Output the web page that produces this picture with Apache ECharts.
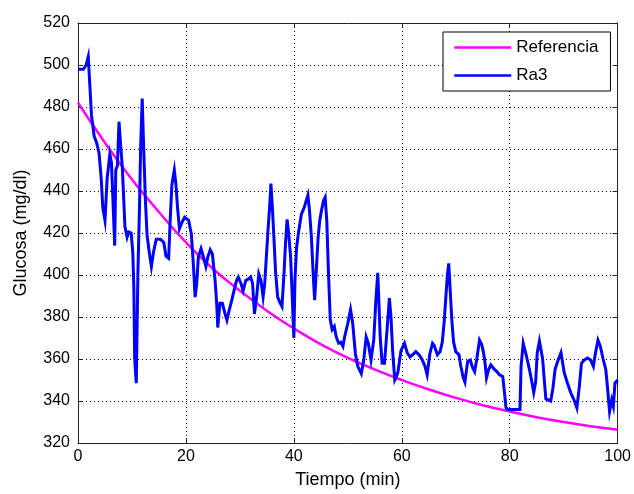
<!DOCTYPE html>
<html>
<head>
<meta charset="utf-8">
<script src="https://cdn.jsdelivr.net/npm/echarts@6/dist/echarts.min.js"></script>
<style>
  html, body { margin: 0; padding: 0; background: #fff; }
  #chart { width: 634px; height: 494px; }
</style>
</head>
<body>
<div id="chart"></div>
<script>
// Reference glucose trajectory (mg/dl) sampled every 5 min
const refTime = [0, 5, 10, 15, 20, 25, 30, 35, 40, 45, 50, 55, 60, 65, 70, 75, 80, 85, 90, 95, 100];
const refGlucose = [482, 463, 445.5, 430, 415.5, 403, 392.5, 383, 374.5, 367, 360.5, 355, 350, 345.5, 341.5, 338, 335, 332.3, 330, 328, 326.3];

// Measured Ra3 glucose response: time (min) and value (mg/dl)
const ra3Time = [
  0, 1.0, 1.5, 1.9, 2.2, 2.5, 3.0, 3.45, 3.9, 4.3, 4.6, 5.0, 5.4, 5.9, 6.2, 6.5, 6.8, 7.0, 7.3, 7.6,
  7.9, 8.2, 8.7, 9.1, 9.4, 9.85, 10.15, 10.35, 10.5, 10.8, 11.1, 11.4, 11.6, 11.9, 12.2, 12.5, 12.8, 13.2, 13.6, 14.0,
  14.5, 15.3, 15.9, 16.3, 16.8, 17.1, 17.4, 17.85, 18.15, 18.45, 18.8, 19.25, 19.75, 20.5, 21.0, 21.4, 21.7, 22.0, 22.3, 22.8,
  23.25, 23.7, 24.05, 24.5, 24.9, 25.4, 25.7, 25.9, 26.3, 26.75, 27.25, 27.6, 28.0, 28.5, 29.0, 29.4, 29.7, 30.2, 30.6, 31.1,
  31.55, 32.0, 32.35, 32.7, 33.1, 33.5, 33.9, 34.3, 34.6, 34.9, 35.2, 35.55, 35.75, 36.05, 36.3, 36.6, 37.0, 37.4, 37.8, 38.2,
  38.45, 38.75, 39.05, 39.4, 39.7, 40.0, 40.2, 40.5, 40.9, 41.4, 41.9, 42.3, 42.6, 42.9, 43.25, 43.55, 43.85, 44.2, 44.5, 44.8,
  45.1, 45.5, 45.8, 46.1, 46.4, 46.75, 47.1, 47.5, 47.85, 48.3, 48.7, 49.1, 49.4, 50.0, 50.5, 50.9, 51.4, 51.85, 52.5, 52.95,
  53.4, 53.8, 54.3, 54.8, 55.2, 55.55, 55.7, 56.0, 56.35, 56.8, 57.3, 57.7, 58.0, 58.3, 58.7, 59.0, 59.3, 59.85, 60.5, 61.0,
  61.5, 62.0, 62.6, 63.2, 63.8, 64.3, 64.7, 65.2, 65.7, 66.0, 66.6, 67.1, 67.5, 67.85, 68.15, 68.45, 68.7, 68.95, 69.3, 69.6,
  70.0, 70.6, 70.9, 71.4, 71.7, 71.95, 72.2, 72.7, 73.1, 73.5, 73.9, 74.4, 74.8, 75.1, 75.4, 75.7, 76.1, 76.5, 77.0, 77.6,
  78.1, 78.7, 78.95, 79.3, 79.6, 81.9, 82.1, 82.5, 83.0, 83.65, 84.0, 84.45, 84.8, 85.1, 85.5, 85.8, 86.1, 86.4, 86.7, 87.6,
  88.0, 88.4, 88.9, 89.5, 90.1, 90.7, 91.3, 92.0, 92.45, 92.9, 93.3, 93.8, 94.4, 95.0, 95.5, 95.9, 96.35, 96.8, 97.3, 97.8,
  98.1, 98.5, 98.9, 99.2, 99.5, 100
];
const ra3Glucose = [
  498, 498, 500, 504, 490, 476, 466, 463, 458, 446, 432, 426, 446, 457.5, 453.5, 434, 414, 450, 452, 473,
  462, 452, 423, 418, 420.5, 420, 411, 394, 360, 348.5, 401, 433, 460, 484, 458, 435, 419, 411, 404, 411,
  417, 417, 415.5, 409, 408, 427, 443, 450, 443, 432, 422, 425, 427.5, 426, 419.5, 404, 389.5, 396, 408.5, 412.5,
  408.5, 404, 408.5, 412, 410, 397.5, 386.5, 375, 386.5, 386.5, 381.5, 378.5, 383, 388, 393.5, 397.5, 399, 396, 392.5, 397.5,
  398, 399, 396, 381.5, 389.5, 400.5, 397.5, 389.5, 396, 408.5, 421, 434, 443.5, 430.5, 418, 402, 389.5, 387, 385, 402,
  415, 426.5, 419.5, 408.5, 389.5, 370, 397.5, 413, 421, 429, 432, 435.5, 438, 430.5, 418, 402, 388, 404, 418, 426,
  430.5, 435.5, 437, 426, 402, 378.5, 374, 375.5, 370.5, 367.5, 368, 366, 370.5, 377, 383.5, 377, 362.5, 356.5, 353, 359.5,
  370.5, 367.5, 359.5, 369, 388, 401, 391, 370.5, 358, 358, 375, 389, 380, 364, 350, 351.5, 354, 364, 367.5, 363,
  361, 362, 363.5, 362, 359.5, 356.5, 352.5, 362.5, 367.5, 366.5, 362, 363.5, 368, 377.5, 389, 400, 405.5, 393.5, 377.5, 368,
  363.5, 362, 357, 351, 349, 354, 358.8, 359.5, 356, 354, 360, 369, 367, 363.5, 358.8, 351, 355, 357.2, 355.5, 354,
  352.5, 351.7, 346, 337, 336, 336, 356.5, 367.5, 362.5, 355, 350.5, 344, 349, 363, 368.5, 369, 360, 350, 341, 340,
  346, 355, 359, 363, 353.5, 348.5, 344, 340, 336.7, 347, 358, 359.5, 360.5, 359.5, 356.5, 363, 369, 366, 360, 355,
  347, 335, 340.5, 337.5, 348.5, 350
];

// Axis ranges and tick spacing
const xRange = [0, 100], xStep = 20;
const yRange = [320, 520], yStep = 20;

const FONT = 'Liberation Sans, Arial, sans-serif';
const AXIS_COLOR = '#222';

const pairs = (xs, ys) => xs.map((x, i) => [x, ys[i]]);

const chart = echarts.init(document.getElementById('chart'), null, { renderer: 'canvas' });

const baseX = {
  type: 'value', min: xRange[0], max: xRange[1], interval: xStep,
  axisLine: { show: true, onZero: false, lineStyle: { color: AXIS_COLOR, width: 1 } },
  axisTick: { show: true, inside: true, length: 5, lineStyle: { color: AXIS_COLOR } }
};
const baseY = {
  type: 'value', min: yRange[0], max: yRange[1], interval: yStep,
  axisLine: { show: true, onZero: false, lineStyle: { color: AXIS_COLOR, width: 1 } },
  axisTick: { show: true, inside: true, length: 5, lineStyle: { color: AXIS_COLOR } }
};

chart.setOption({
  animation: false,
  backgroundColor: '#ffffff',
  grid: { left: 78, right: 14, top: 23, bottom: 51, containLabel: false },
  legend: {
    orient: 'vertical',
    left: 443, top: 32,
    padding: [7, 12, 7, 10],
    itemWidth: 57, itemHeight: 16, itemGap: 11,
    backgroundColor: '#ffffff',
    borderColor: '#000', borderWidth: 1, borderRadius: 0,
    // line-only keys: hide the marker, keep the stroke
    itemStyle: { opacity: 0 },
    lineStyle: { width: 2.5 },
    textStyle: { fontFamily: FONT, fontSize: 17, color: '#000', lineHeight: 16 },
    data: ['Referencia', 'Ra3']
  },
  xAxis: [
    Object.assign({}, baseX, {
      position: 'bottom',
      name: 'Tiempo (min)', nameLocation: 'middle', nameGap: 28,
      nameTextStyle: { fontFamily: FONT, fontSize: 18, color: '#000' },
      axisLabel: { fontFamily: FONT, fontSize: 16, color: '#000', margin: 6 },
      splitLine: { show: true, lineStyle: { color: '#000', type: [1, 3], width: 1 } }
    }),
    Object.assign({}, baseX, {
      position: 'top', axisLabel: { show: false }, splitLine: { show: false }
    })
  ],
  yAxis: [
    Object.assign({}, baseY, {
      position: 'left',
      name: 'Glucosa (mg/dl)', nameLocation: 'middle', nameGap: 48, nameRotate: 90,
      nameTextStyle: { fontFamily: FONT, fontSize: 18, color: '#000' },
      axisLabel: { fontFamily: FONT, fontSize: 16, color: '#000', margin: 8 },
      splitLine: { show: true, lineStyle: { color: '#000', type: [1, 3], width: 1 } }
    }),
    Object.assign({}, baseY, {
      position: 'right', axisLabel: { show: false }, splitLine: { show: false }
    })
  ],
  series: [
    {
      name: 'Referencia', type: 'line', xAxisIndex: 0, yAxisIndex: 0,
      data: pairs(refTime, refGlucose),
      smooth: true, symbol: 'none',
      lineStyle: { color: '#ff00ff', width: 2.5 },
      itemStyle: { color: '#ff00ff' }
    },
    {
      name: 'Ra3', type: 'line', xAxisIndex: 0, yAxisIndex: 0,
      data: pairs(ra3Time, ra3Glucose),
      symbol: 'none',
      lineStyle: { color: '#0000ff', width: 3, join: 'miter' },
      itemStyle: { color: '#0000ff' }
    }
  ]
});
</script>
</body>
</html>
